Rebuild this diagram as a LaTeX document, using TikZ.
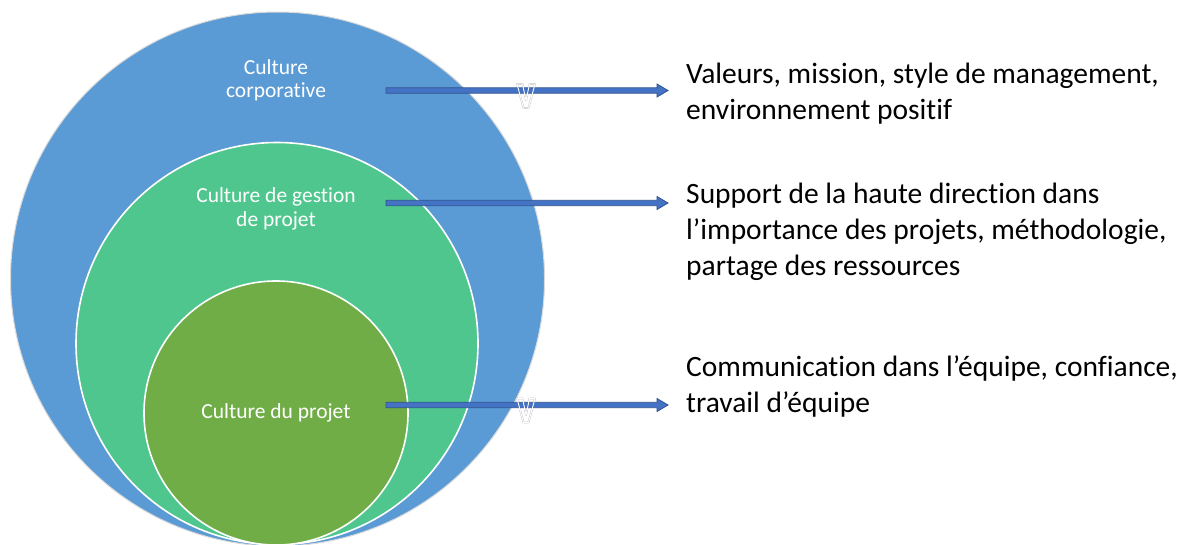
\documentclass[tikz,border=0pt]{standalone}
\usepackage{fontspec}
\setmainfont{Carlito}[Ligatures={NoCommon}]
\usetikzlibrary{calc}

\definecolor{corpblue}{HTML}{5B9BD5}
\definecolor{mgmtgreen}{HTML}{4FC68D}
\definecolor{projolive}{HTML}{70AD47}
\definecolor{arrowfill}{HTML}{4472C4}
\definecolor{arrowedge}{HTML}{2F528F}
\definecolor{rimgrey}{HTML}{D9D9D9}

% horizontal block arrow from #1 to #2
\newcommand\blockarrow[2]{%
  \filldraw[arrowbody]
    ($(#1)+(0,-2.7)$) -- ($(#2)+(-11,-2.7)$) -- ($(#2)+(-11,-6.5)$) -- (#2)
    -- ($(#2)+(-11,6.5)$) -- ($(#2)+(-11,2.7)$) -- ($(#1)+(0,2.7)$) -- cycle;}

% small outlined V mark sitting on an arrow shaft at #1
\newcommand\vmarkpath{(-9,-6.5) -- (-3.5,-6.5) -- (0,10) -- (3.5,-6.5) -- (9,-6.5) -- (2.5,17.5) -- (-2.5,17.5) -- cycle}
\newcommand\vmark[1]{%
  \draw[vhalo, shift={(#1)}] \vmarkpath;
  \draw[vstroke, shift={(#1)}] \vmarkpath;}

\tikzset{
  ring/.style={circle, inner sep=0pt, outer sep=0pt},
  circtext/.style={text=white, align=center, inner sep=0pt,
                   font=\fontsize{21.5}{23.5}\selectfont},
  sidetext/.style={text=black, align=left, anchor=west, inner sep=0pt,
                   font=\fontsize{29.5}{36}\selectfont},
  arrowbody/.style={fill=arrowfill, draw=arrowedge, line width=0.8pt, line join=miter},
  vhalo/.style={draw=black!22, line width=1.8pt, line join=round},
  vstroke/.style={draw=white, line width=0.9pt, line join=round},
}

\begin{document}
\begin{tikzpicture}[x=1pt, y=-1pt]
  \useasboundingbox[fill=white] (0,0) rectangle (1182,544);

  % nested culture circles, all touching at the bottom
  \begin{scope}
    \clip (0,0) rectangle (1182,544);
    \node[ring, fill=corpblue, draw=rimgrey, line width=1pt, minimum size=534pt] (corp) at (277.5,279) {};
    \node[ring, fill=mgmtgreen, draw=white, line width=1.6pt, minimum size=402pt] (mgmt) at (277,343.5) {};
    \node[ring, fill=projolive, draw=white, line width=1.6pt, minimum size=264pt] (proj) at (276,413) {};
  \end{scope}

  % circle labels
  \node[circtext] (corpT) at (276,80.5) {Culture\\corporative};
  \node[circtext] (mgmtT) at (276,209) {Culture de gestion\\de projet};
  \node[circtext] (projT) at (276,413) {Culture du projet};

  % descriptions on the right
  \node[sidetext] (corpD) at (686,93.5) {Valeurs, mission, style de management,\\environnement positif};
  \node[sidetext] (mgmtD) at (686,231.5) {Support de la haute direction dans\\l’importance des projets, méthodologie,\\partage des ressources};
  \node[sidetext] (projD) at (686,386) {Communication dans l’équipe, confiance,\\travail d’équipe};

  % arrow end points
  \coordinate (s1) at (386,90.5);  \coordinate (e1) at (corpD.west |- s1);
  \coordinate (s2) at (386,203);   \coordinate (e2) at (mgmtD.west |- s2);
  \coordinate (s3) at (386,405);   \coordinate (e3) at (projD.west |- s3);

  \vmark{526,90.5}
  \vmark{526,405}

  \blockarrow{s1}{$(e1)+(-18,0)$}
  \blockarrow{s2}{$(e2)+(-18,0)$}
  \blockarrow{s3}{$(e3)+(-18,0)$}

  % the V outline crosses over the shaft
  \begin{scope}
    \clip (510,86) rectangle (542,95);
    \draw[vstroke, shift={(526,90.5)}] \vmarkpath;
  \end{scope}
  \begin{scope}
    \clip (510,400.5) rectangle (542,409.5);
    \draw[vstroke, shift={(526,405)}] \vmarkpath;
  \end{scope}
\end{tikzpicture}
\end{document}
